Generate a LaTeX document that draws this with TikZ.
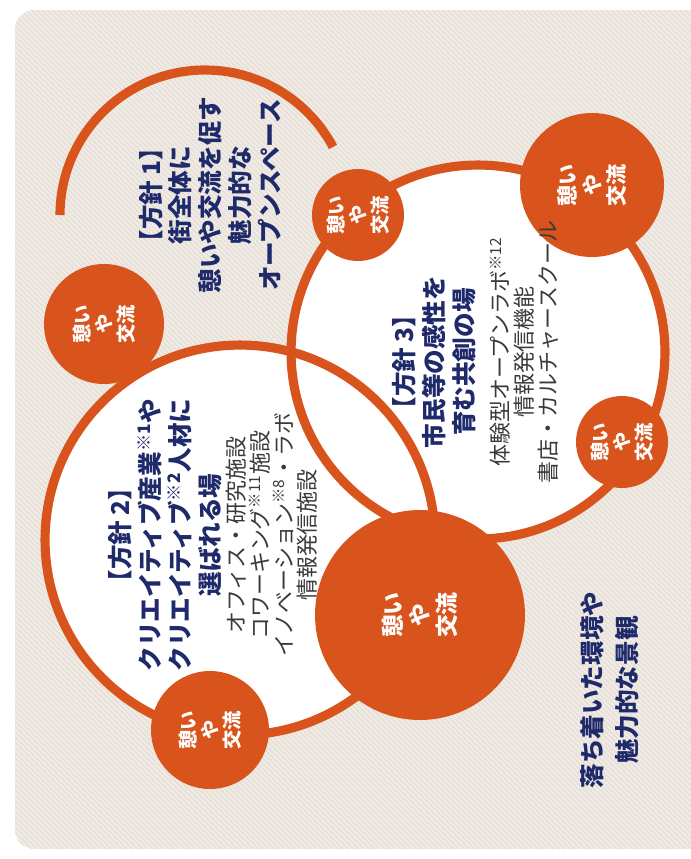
\documentclass[tikz,border=0pt]{standalone}
\usepackage{fontspec}
\setmainfont{Noto Sans CJK JP}
\usetikzlibrary{patterns}
\definecolor{hoshin}{HTML}{D9541C}
\definecolor{kon}{HTML}{1F2A6B}
\definecolor{sumi}{HTML}{3A3A3A}
\definecolor{kinari}{HTML}{F0EAE4}
\definecolor{kinarisen}{HTML}{E2DAD1}
\tikzset{
  disk/.style={circle, fill=white, inner sep=0pt},
  ring/.style={circle, draw=hoshin, line width=5.2pt, inner sep=0pt},
  bubble/.style={circle, fill=hoshin, text=white, align=center, rotate=90, inner sep=0pt,
    font=\bfseries\fontsize{11}{12.5}\selectfont},
  heading/.style={text=kon, align=center, rotate=90, font=\bfseries\fontsize{14}{17}\selectfont},
  items/.style={text=sumi, align=center, rotate=90, font=\fontsize{12.5}{13.5}\selectfont},
}
\begin{document}
\begin{tikzpicture}[x=0.02cm,y=-0.02cm]
\useasboundingbox (0,0) rectangle (690,859);
% background
\fill[kinari, rounded corners=11pt] (15,10) rectangle (720,849);
\fill[pattern=north west lines, pattern color=kinarisen, rounded corners=11pt] (15,10) rectangle (720,849);
% circles
\node[disk, minimum size=7.8cm] (c2) at (240,540) {};
\node[disk, minimum size=7.48cm] (c3) at (478,352) {};
\node[ring, minimum size=7.8cm] (c2r) at (c2) {};
\node[ring, minimum size=7.48cm] (c3r) at (c3) {};
\coordinate (c1) at (205,215);
\draw[hoshin, line width=5.2pt] (c1) ++(180:145) arc[start angle=180, end angle=332, radius=145];
% bubbles
\node[bubble, minimum size=2.4cm] (k1) at (104,324) {憩い\\や\\交流};
\node[bubble, minimum size=1.84cm] (k2) at (358,215) {憩い\\や\\交流};
\node[bubble, minimum size=2.88cm, font=\bfseries\fontsize{12}{14}\selectfont] (k3) at (592,185) {憩い\\や\\交流};
\node[bubble, minimum size=1.84cm] (k4) at (622,442) {憩い\\や\\交流};
\node[bubble, minimum size=4.2cm, font=\bfseries\fontsize{13}{15.5}\selectfont] (k5) at (420,615) {憩い\\や\\交流};
\node[bubble, minimum size=2.36cm] (k6) at (210,730) {憩い\\や\\交流};
% texts
\node[heading] (t1) at (210,195) {【方針 1】\\街全体に\\憩いや交流を促す\\魅力的な\\オープンスペース};
\node[heading] (t2) at (165,535)
  {【方針 2】\\クリエイティブ産業\textsuperscript{※1}や\\クリエイティブ\textsuperscript{※2}人材に\\選ばれる場};
\node[items] (t2i) at (272,535)
  {オフィス・研究施設\\コワーキング\textsuperscript{※11}施設\\イノベーション\textsuperscript{※8}・ラボ\\情報発信施設};
\node[heading] (t3) at (434,362) {【方針 3】\\市民等の感性を\\育む共創の場};
\node[items] (t3i) at (524,352)
  {体験型オープンラボ\textsuperscript{※12}\\情報発信機能\\書店・カルチャースクール};
\node[heading, font=\bfseries\fontsize{14}{20}\selectfont] (t4) at (610,690) {落ち着いた環境や\\魅力的な景観};
\end{tikzpicture}
\end{document}
